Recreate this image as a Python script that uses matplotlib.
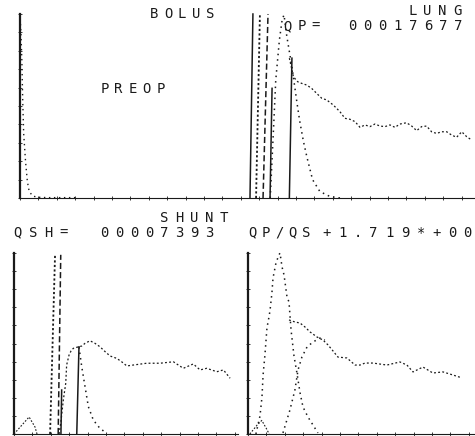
import numpy as np
import matplotlib
matplotlib.use('Agg')
import matplotlib.pyplot as plt

# --- top panel (PREOP / BOLUS / LUNG), time in s, counts in % of full scale
preop_t = [0.0, 0.05, 0.1, 0.15, 0.2, 0.3, 0.4, 0.5, 0.7, 1.0, 1.5, 3.0]
preop_y = [100, 90, 75, 52, 35, 20, 9, 3.5, 1.0, 0.4, 0.2, 0.2]

bolus_t = [13.6, 13.8, 13.9, 14.0, 14.1, 14.25, 14.35, 14.5, 14.8, 15.05, 15.2,
           15.4, 15.6, 15.9, 16.3, 16.85, 17.4]
bolus_y = [0, 42, 64, 75, 86, 97, 99.5, 88, 70, 52, 42, 31, 22, 10, 3.5, 0.8, 0]

lung_t = [14.64, 14.86, 15.09, 15.31, 15.58, 15.85, 16.12, 16.40, 16.67, 17.03,
          17.39, 17.66, 17.93, 18.21, 18.48, 18.75, 19.02, 19.29, 19.57, 19.84,
          20.11, 20.38, 20.65, 21.01, 21.29, 21.56, 21.83, 22.10, 22.37, 22.64,
          22.92, 23.19, 23.46, 23.73, 24.01, 24.28, 24.55]
lung_y = [76, 65.9, 63.2, 62.3, 61.4, 59.6, 56.9, 54.2, 53.3, 50.5, 46.9, 43.3,
          42.8, 41.5, 38.4, 39.7, 38.8, 40.2, 39.1, 38.8, 39.7, 38.4, 40.2, 40.9,
          39.1, 36.6, 38.8, 39.1, 36.0, 35.1, 36.0, 36.0, 34.2, 33.0, 36.0, 33.3,
          31.5]

# cursor lines: (t bottom, t top, y top, style)
top_cursors = [(12.50, 12.66, 100, '-'), (12.83, 13.04, 100, ':'),
               (13.21, 13.48, 100, '--'), (13.59, 13.70, 59.6, '-'),
               (14.64, 14.78, 76, '-')]

# --- bottom left panel (SHUNT)
sh_pre_t = [0.0, 0.82, 1.14, 1.25]
sh_pre_y = [0, 9.4, 3.9, 0]

shunt_t = [2.45, 2.55, 2.68, 2.81, 2.86, 2.99, 3.10, 3.22, 3.41, 3.68, 3.86, 4.13,
           4.40, 4.67, 4.95, 5.22, 5.58, 5.85, 6.13, 6.48, 7.21, 7.93, 8.66, 9.20,
           9.74, 10.11, 10.47, 11.02, 11.38, 11.74]
shunt_y = [0, 6.8, 18.8, 28.0, 38.1, 43.6, 45.9, 47.3, 47.9, 48.6, 50.1, 51.5,
           50.1, 48.2, 45.5, 43.1, 41.8, 39.9, 37.6, 38.1, 39.1, 39.1, 39.9, 36.3,
           38.7, 35.4, 36.3, 34.4, 35.4, 30.8]

sh_fit_t = [3.53, 3.68, 3.86, 4.04, 4.31, 4.67, 5.04]
sh_fit_y = [48, 37.2, 26.1, 15.1, 7.7, 3.1, 0.4]

sh_cursors = [(1.96, 2.23, 99, ':'), (2.40, 2.54, 99, '--'),
              (2.55, 2.59, 24.3, '-'), (3.41, 3.53, 48.2, '-')]

# --- bottom right panel (QP/QS)
qp_pre_t = [0.1, 0.5, 0.75, 1.0, 1.15]
qp_pre_y = [0, 5, 7.5, 3, 0]

first_t = [0.43, 0.65, 0.76, 0.82, 0.92, 1.03, 1.14, 1.20, 1.30, 1.36, 1.52, 1.68,
           1.74, 1.85, 1.96, 2.12, 2.23, 2.28, 2.34, 2.50, 2.66, 2.83, 2.99, 3.26,
           3.53, 3.80]
first_y = [0, 9.9, 20.4, 32.6, 43.6, 58.6, 64.6, 68.5, 77.9, 86.2, 94.5, 98.9,
           100, 92.3, 87.8, 75.7, 72.9, 65.7, 57.5, 43.1, 33.7, 22.7, 14.9, 9.4,
           5.0, 0.6]

recirc_t = [1.90, 2.28, 2.55, 2.72, 2.93, 3.21, 3.53, 3.91, 4.18]
recirc_y = [0.6, 13.3, 24.3, 35.4, 42.5, 48.1, 50.8, 53.0, 52.0]

qp_lung_t = [2.23, 2.55, 2.83, 3.10, 3.37, 3.75, 4.08, 4.35, 4.62, 4.89, 5.38,
             5.82, 6.09, 6.36, 6.79, 7.55, 8.26, 8.64, 8.97, 9.51, 10.05, 10.60,
             11.14, 11.63]
qp_lung_y = [63.0, 61.9, 61.3, 59.1, 56.4, 53.6, 51.9, 49.2, 45.9, 42.5, 42.0,
             38.1, 38.1, 39.2, 39.2, 38.1, 39.8, 38.1, 34.3, 37.0, 33.7, 34.3,
             32.6, 31.0]

W, H = 475, 436
INK = '#1a1a1a'
DOT = (0, (1, 2.6))
LINE_STYLES = {'-': '-', ':': (0, (1.2, 1.3)), '--': (0, (4, 2))}

fig = plt.figure(figsize=(W / 100, H / 100), dpi=100)
fig.patch.set_facecolor('white')


def make_axes(left, top, right, bottom, xmax):
    ax = fig.add_axes([left / W, (H - bottom) / H, (right - left) / W, (bottom - top) / H])
    ax.set_xlim(0, xmax)
    ax.set_ylim(0, 100)
    for s in ['top', 'right']:
        ax.spines[s].set_visible(False)
    ax.spines['left'].set_linewidth(1.6)
    ax.spines['bottom'].set_linewidth(0.8)
    ax.spines['left'].set_color(INK)
    ax.spines['bottom'].set_color(INK)
    ax.set_xticks(np.arange(0, xmax, 1.0))
    ax.set_yticks(np.arange(0, 101, 10))
    ax.tick_params(direction='inout', length=2.5, width=0.6, color=INK,
                   labelleft=False, labelbottom=False)
    ax.patch.set_alpha(0)
    return ax


def cursors(ax, items):
    for t0, t1, ytop, st in items:
        lw = 1.3 if st == ':' else 1.1
        ax.plot([t0, t1], [0, ytop], color=INK, lw=lw, ls=LINE_STYLES[st],
                clip_on=False)


ax1 = make_axes(20, 14, 475, 198, 24.73)
ax1.plot(preop_t, preop_y, color=INK, lw=1.0, ls=DOT, clip_on=False)
ax1.plot(bolus_t, bolus_y, color=INK, lw=1.1, ls=DOT, clip_on=False)
ax1.plot(lung_t, lung_y, color=INK, lw=0.9, ls=(0, (1.5, 1.8)), clip_on=False)
cursors(ax1, top_cursors)

ax2 = make_axes(14, 253, 238, 434, 12.17)
ax2.plot(sh_pre_t, sh_pre_y, color=INK, lw=0.8, ls=(0, (1.5, 1.5)), clip_on=False)
ax2.plot(shunt_t, shunt_y, color=INK, lw=0.9, ls=(0, (1.5, 1.8)), clip_on=False)
ax2.plot(sh_fit_t, sh_fit_y, color=INK, lw=1.1, ls=DOT, clip_on=False)
cursors(ax2, sh_cursors)

ax3 = make_axes(248, 253, 475, 434, 12.34)
ax3.plot(qp_pre_t, qp_pre_y, color=INK, lw=0.8, ls=(0, (1.5, 1.5)), clip_on=False)
ax3.plot(first_t, first_y, color=INK, lw=1.1, ls=DOT, clip_on=False)
ax3.plot(recirc_t, recirc_y, color=INK, lw=1.1, ls=DOT, clip_on=False)
ax3.plot(qp_lung_t, qp_lung_y, color=INK, lw=0.9, ls=(0, (1.5, 1.8)), clip_on=False)


def grid_text(s, left, yc, pitch):
    # printer style text: one character per fixed cell
    for i, ch in enumerate(s):
        if ch == ' ':
            continue
        fig.text((left + 4.5 + i * pitch) / W, 1 - yc / H, ch, ha='center',
                 va='center', fontsize=10, family='DejaVu Sans Mono', color=INK)


grid_text('BOLUS', 150, 14, 13.8)
grid_text('LUNG', 408, 11, 15.0)
grid_text('QP=', 283, 26, 14.0)
grid_text('00017677', 348, 26, 15.1)
grid_text('PREOP', 100, 89, 14.0)
grid_text('SHUNT', 160, 217.5, 14.75)
grid_text('QSH=', 13, 232.5, 15.3)
grid_text('00007393', 100, 232.5, 14.9)
grid_text('QP/QS', 248, 232.5, 13.3)
grid_text('+1.719*+00', 322, 232.5, 15.7)

fig.savefig('out.png', dpi=100, facecolor='white')
